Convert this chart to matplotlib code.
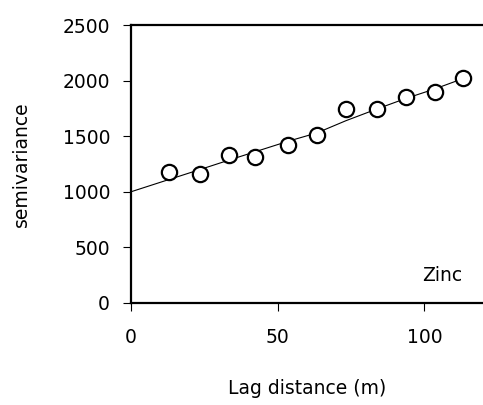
import numpy as np
from matplotlib import pyplot as plt

plt.rcParams['font.family'] = ['DejaVu Sans']

# observed semivariance
lag_m = [12.9, 23.5, 33.4, 42.3, 53.6, 63.4, 73.3, 83.8, 93.7, 103.5, 113.3]
semivar = [1180, 1160, 1330, 1315, 1420, 1510, 1745, 1745, 1855, 1900, 2020]

# fitted model
model_lag = [0, 12.9, 23.5, 33.4, 42.3, 53.6, 63.4, 73.3, 83.8, 93.7, 103.5, 113.3]
model_val = [1000, 1110, 1200, 1285, 1360, 1455, 1530, 1640, 1745, 1840, 1925, 2020]

x_ticks = [0, 50, 100]
y_ticks = [0, 500, 1000, 1500, 2000, 2500]

fs = 13.5

fig = plt.figure(figsize=(4.83, 4.05), dpi=100)
ax = fig.add_axes([0.271, 0.252, 0.729, 0.686])

ax.plot(model_lag, model_val, color="black", linewidth=0.8, zorder=2)
ax.plot(lag_m, semivar, linestyle="none", marker="o", markersize=11,
        markerfacecolor="white", markeredgecolor="black", markeredgewidth=1.6, zorder=3)

ax.set_xlim(0, 120)
ax.set_ylim(0, 2500)
ax.set_xticks(x_ticks)
ax.set_yticks(y_ticks)

for side in ["left", "bottom", "top"]:
    ax.spines[side].set_linewidth(1.6)
ax.spines["right"].set_visible(False)

ax.tick_params(axis="both", direction="out", length=6, width=0.8, labelsize=fs)
ax.tick_params(axis="y", pad=9)
ax.tick_params(axis="x", pad=12)

ax.set_xlabel("Lag distance (m)", fontsize=fs, labelpad=23)
ax.set_ylabel("semivariance", fontsize=fs, labelpad=23)

ax.text(0.94, 0.1, "Zinc", transform=ax.transAxes, ha="right", va="center", fontsize=fs)

fig.savefig("out.png", dpi=100)
